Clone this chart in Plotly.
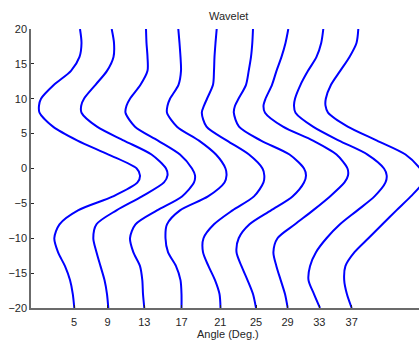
import plotly.graph_objects as go

# Time samples (vertical axis)
y_samples = [20, 18, 16, 14, 12, 10, 9, 8, 6, 4, 2, 0, -1, -2, -4, -6, -8, -10, -12, -14, -16, -18, -20]

# Horizontal positions of each wavelet trace (axis units), one list per angle
trace_5 = [49, 50.5, 48.5, 40, 23, 10, 8, 8.5, 22, 46.5, 77.5, 105.7, 109, 106.5, 82, 47, 28.5, 23.3, 27, 34, 39, 41.8, 43.3]
trace_9 = [80.7, 83, 82.5, 76, 64.5, 53, 50.2, 50.5, 66, 93, 120.5, 135, 136.5, 133, 111, 85.5, 65.5, 62.3, 65.5, 69.5, 73.5, 76, 77.3]
trace_13 = [115, 115.5, 116.5, 116.5, 109.5, 99, 95.5, 94.5, 104, 127, 149, 161, 164, 163, 151, 126, 104.5, 99, 102.3, 109, 111.3, 112, 113.3]
trace_17 = [147.3, 148.5, 149.5, 150, 147.5, 139, 136.5, 136, 146, 168, 185, 194.5, 195.5, 193.5, 177, 149, 136, 134.5, 137, 145, 149.5, 150.5, 150.5]
trace_21 = [185.7, 184.5, 183.5, 183, 182, 176, 173, 170.8, 175.5, 196, 218, 231.5, 233.3, 232.5, 223, 201.5, 183, 172.5, 172, 177.5, 184, 188.5, 189.5]
trace_25 = [222, 221.3, 220, 217.7, 215, 207.5, 204, 202.8, 208, 230, 258.5, 273, 275, 273, 261.5, 240, 218.5, 207.7, 205.5, 210.5, 216.5, 222, 225]
trace_29 = [257.3, 254.5, 250.5, 245.5, 241, 234.5, 232.5, 234, 252, 282, 305.5, 316.5, 317, 313.5, 299, 282, 264, 246.5, 242.4, 245.4, 249.7, 254, 256.7]
trace_33 = [292.3, 290.2, 285.5, 277, 269.5, 264, 263, 264.5, 282, 308, 336.5, 353, 355.7, 354.5, 343.5, 326.4, 309, 295.5, 285, 279, 277.5, 283, 289]
trace_37 = [327.3, 325.5, 318.5, 309.2, 300, 294.8, 294.5, 297, 316.7, 346, 374.5, 389, 393, 392, 379.8, 365.4, 351.4, 337.4, 323.5, 314.4, 313.2, 315.9, 320.7]

traces = [trace_5, trace_9, trace_13, trace_17, trace_21, trace_25, trace_29, trace_33, trace_37]

# X tick positions and labels (angles)
angle_tick_vals = [43, 76.5, 113.3, 150.5, 189.3, 225, 256.5, 288.3, 320.7]
angle_tick_text = ["5", "9", "13", "17", "21", "25", "29", "33", "37"]

y_tick_vals = [-20, -15, -10, -5, 0, 5, 10, 15, 20]

fig = go.Figure()
for xs in traces:
    fig.add_trace(go.Scatter(
        x=xs, y=y_samples, mode="lines",
        line=dict(color="#0000ff", width=2, shape="spline", smoothing=0.8),
        showlegend=False, hoverinfo="skip",
    ))

font_family = "Liberation Sans, Arial, sans-serif"
axis_color = "#6b6b6b"

fig.update_layout(
    width=419, height=340,
    margin=dict(l=31, r=0, t=29, b=32, pad=0),
    paper_bgcolor="white", plot_bgcolor="white",
    font=dict(family=font_family, size=11, color="#262626"),
    xaxis=dict(
        range=[0, 388], showgrid=False, zeroline=False,
        showline=True, linecolor=axis_color, linewidth=1.5,
        ticks="inside", ticklen=3, tickcolor="#262626", tickwidth=1,
        tickmode="array", tickvals=angle_tick_vals, ticktext=angle_tick_text,
        tickfont=dict(size=11, color="#262626", family=font_family),
        ticklabelstandoff=3,
    ),
    yaxis=dict(
        range=[-20, 20], showgrid=False, zeroline=False,
        showline=True, linecolor=axis_color, linewidth=1.5,
        ticks="inside", ticklen=3, tickcolor="#262626", tickwidth=1,
        tickmode="array", tickvals=y_tick_vals,
        tickfont=dict(size=11, color="#262626", family=font_family),
    ),
    annotations=[
        dict(text="Wavelet", xref="paper", yref="paper", x=0.509, y=1.0466,
             xanchor="center", yanchor="middle", showarrow=False,
             font=dict(size=11, color="#262626", family=font_family)),
        dict(text="Angle (Deg.)", xref="paper", yref="paper", x=0.509, y=-0.0932,
             xanchor="center", yanchor="middle", showarrow=False,
             font=dict(size=11, color="#262626", family=font_family)),
    ],
)

fig.write_html("out.html", config={"displayModeBar": False})
